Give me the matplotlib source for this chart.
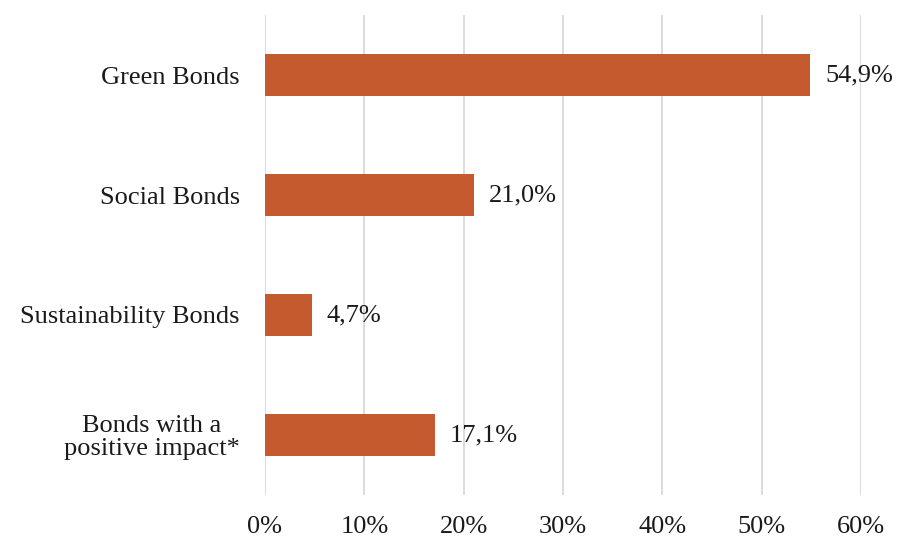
import matplotlib
matplotlib.use("Agg")
import matplotlib.pyplot as plt

categories = ["Green Bonds", "Social Bonds", "Sustainability Bonds", "Bonds with a\npositive impact*"]
values = [54.9, 21.0, 4.7, 17.1]
value_labels = ["54,9%", "21,0%", "4,7%", "17,1%"]
xticks = [0, 10, 20, 30, 40, 50, 60]
xtick_labels = ["0%", "10%", "20%", "30%", "40%", "50%", "60%"]

plt.rcParams['font.family'] = ['Liberation Serif', 'DejaVu Serif']

fig = plt.figure(figsize=(8.98, 5.4), dpi=100)
ax = fig.add_axes([265/898, 1-495/540, (861-265)/898, (495-15)/540])

y = list(range(len(categories)))
ax.barh(y, values, height=0.35, color="#C55A2F", zorder=3)
for yi, v, lab in zip(y, values, value_labels):
    ax.text(v + 1.5, yi, lab, va="center", ha="left", fontsize=19, color="#1a1a1a", zorder=4)

ax.set_xlim(0, 60)
ax.set_ylim(3.5, -0.5)
ax.set_xticks(xticks)
ax.set_xticklabels(xtick_labels, fontsize=19, color="#1a1a1a")
ax.set_yticks(y)
ax.set_yticklabels(categories, fontsize=19, color="#1a1a1a", linespacing=1.0,
                   multialignment="center")
ax.tick_params(axis="both", length=0)
ax.tick_params(axis="x", pad=15)
ax.tick_params(axis="y", pad=18)
ax.grid(axis="x", color="#d6d6d6", linewidth=1.2, zorder=0)
for s in ax.spines.values():
    s.set_visible(False)

fig.savefig("out.png", dpi=100)
